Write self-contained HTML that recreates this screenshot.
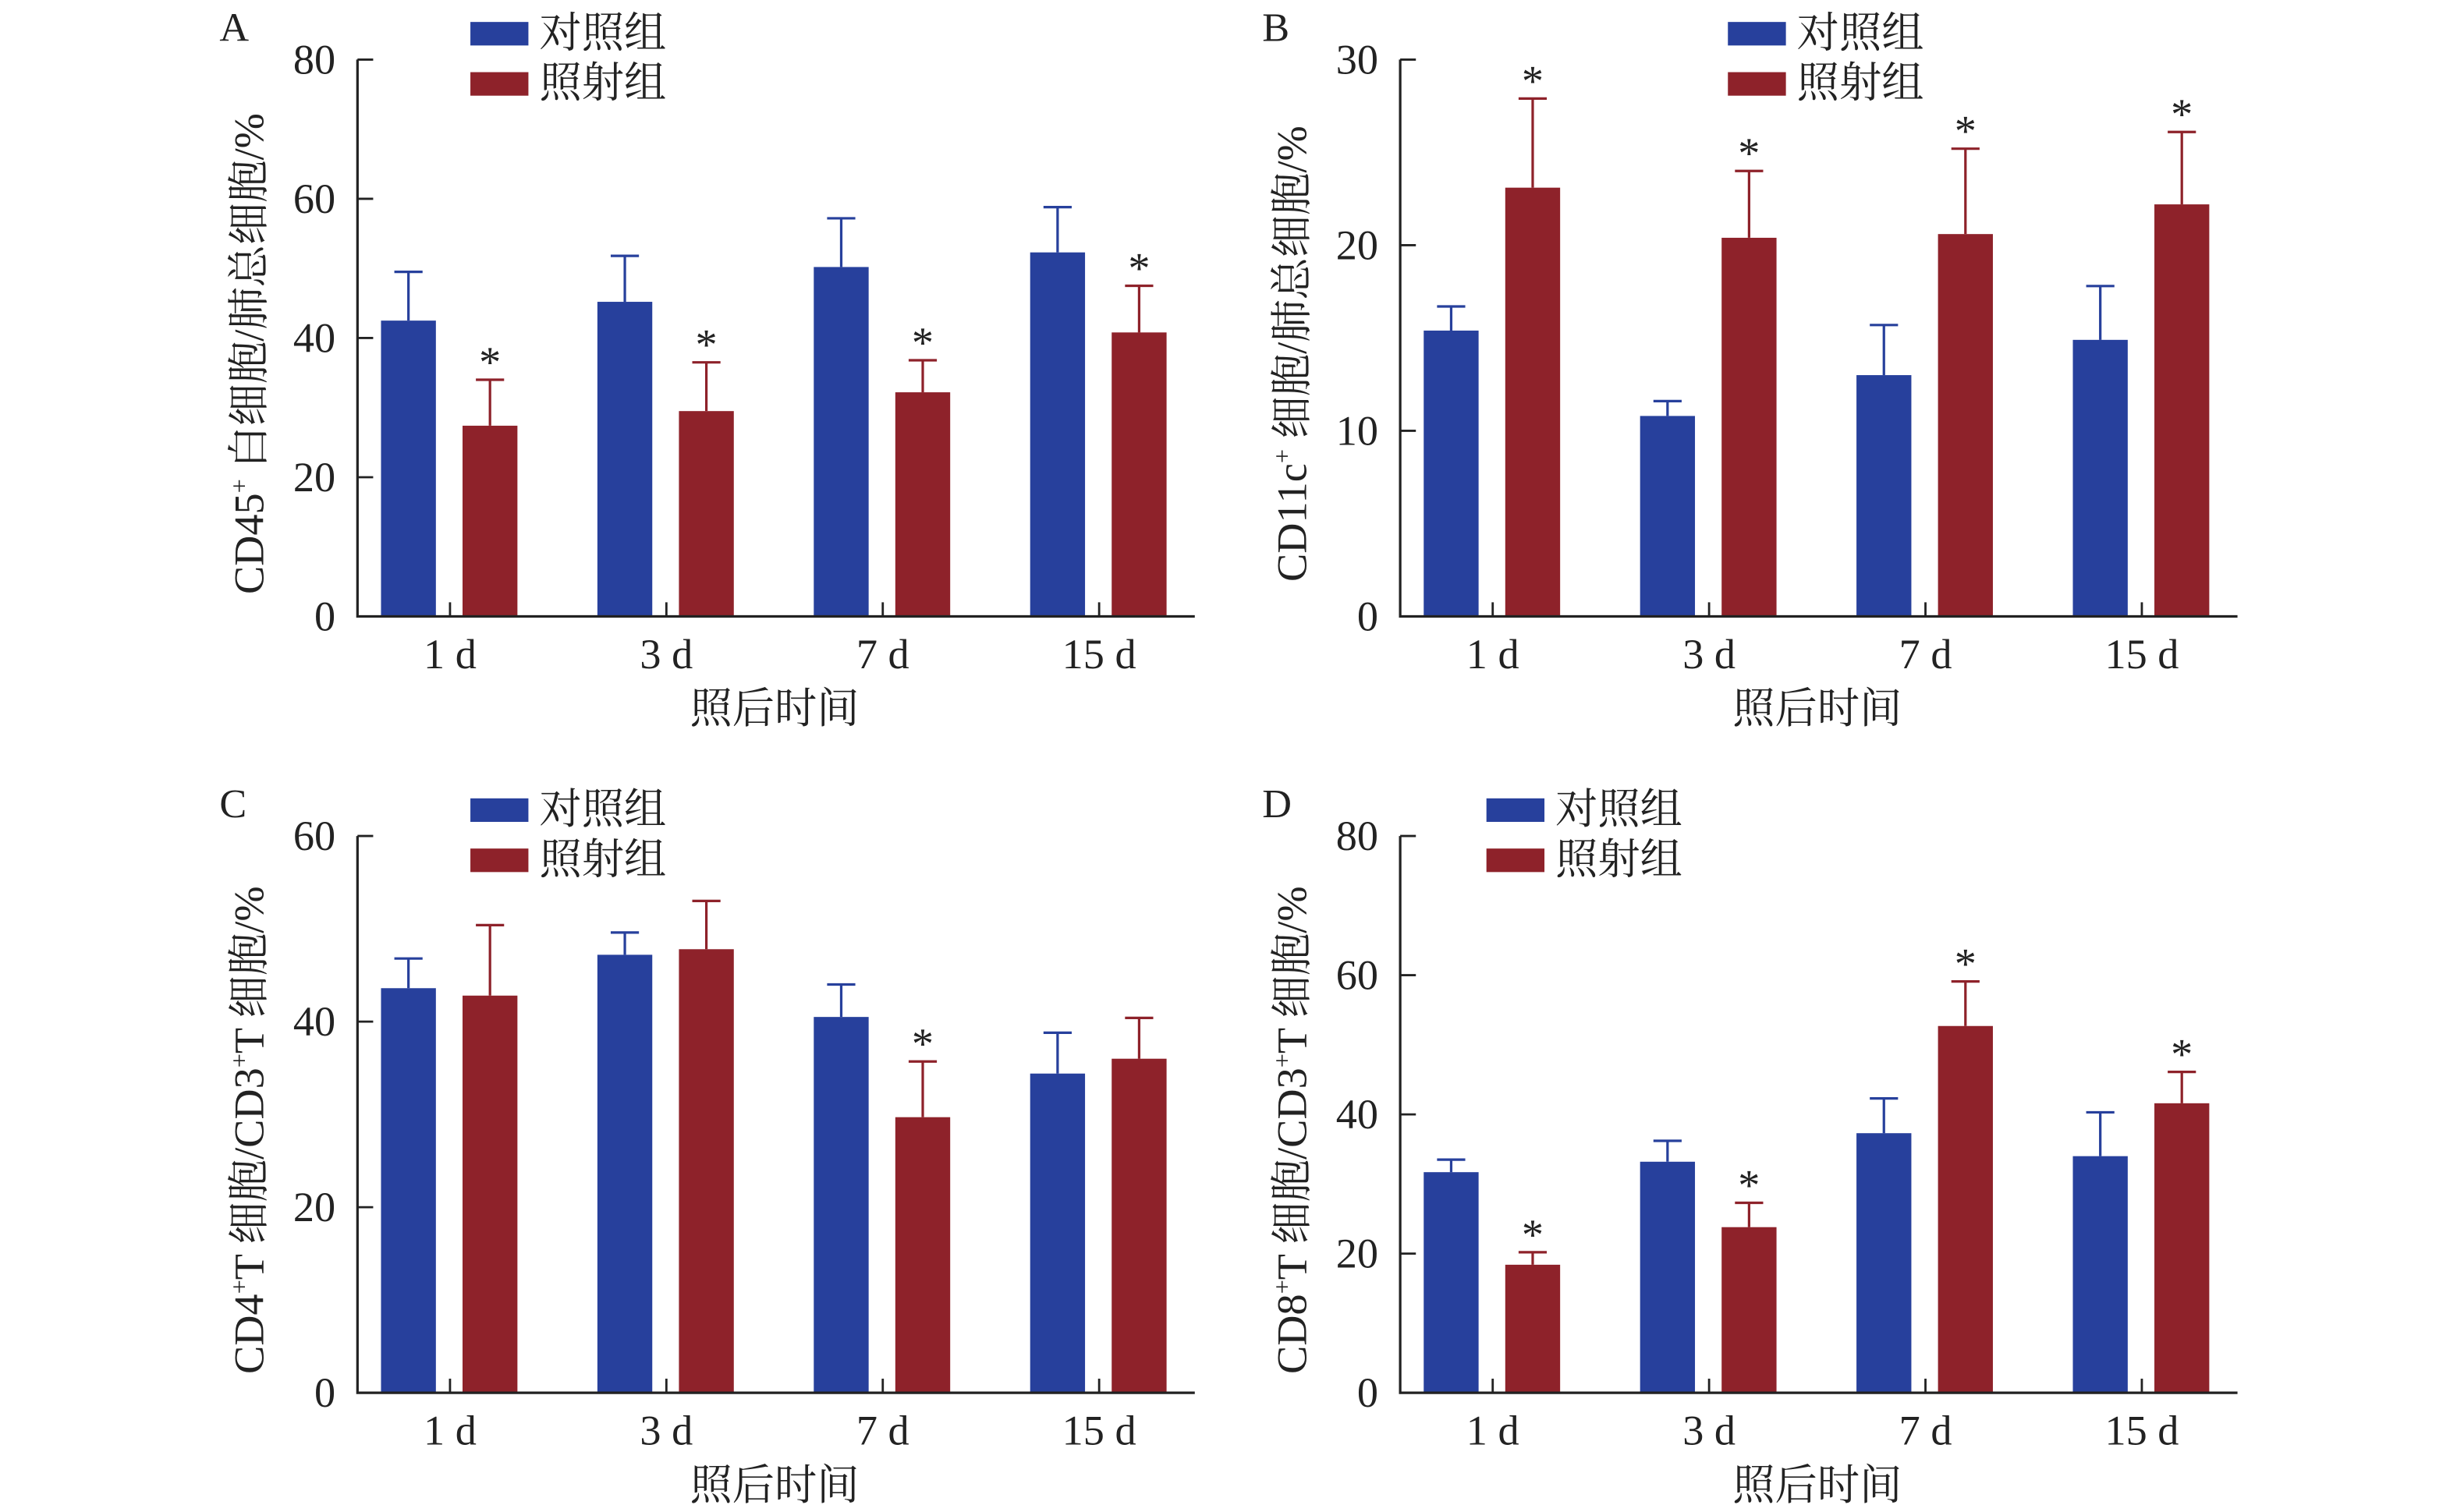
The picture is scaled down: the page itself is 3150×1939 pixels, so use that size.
<!DOCTYPE html>
<html><head><meta charset="utf-8"><style>
html,body{margin:0;padding:0;background:#fff;}
svg{display:block;}
text{font-family:"Liberation Serif","Noto Serif CJK SC","Noto Sans CJK SC",serif;fill:#222;}
</style></head><body>
<svg id="chart" width="3150" height="1939" viewBox="0 0 1567 964" preserveAspectRatio="none" xmlns="http://www.w3.org/2000/svg"></svg>
<script>
const categories = ["1 d","3 d","7 d","15 d"];
const seriesNames = ["对照组","照射组"];
const aControl = [42.5,45.2,50.2,52.3];
const aControlErr = [7.0,6.6,7.0,6.5];
const aIrr = [27.4,29.5,32.2,40.8];
const aIrrErr = [6.6,7.0,4.6,6.7];
const aStars = [false,true,false,true,false,true,false,true];
const bControl = [15.4,10.8,13.0,14.9];
const bControlErr = [1.3,0.8,2.7,2.9];
const bIrr = [23.1,20.4,20.6,22.2];
const bIrrErr = [4.8,3.6,4.6,3.9];
const bStars = [false,true,false,true,false,true,false,true];
const cControl = [43.6,47.2,40.5,34.4];
const cControlErr = [3.2,2.4,3.5,4.4];
const cIrr = [42.8,47.8,29.7,36.0];
const cIrrErr = [7.6,5.2,6.0,4.4];
const cStars = [false,false,false,false,false,true,false,false];
const dControl = [31.7,33.2,37.3,34.0];
const dControlErr = [1.8,3.0,5.0,6.3];
const dIrr = [18.4,23.8,52.7,41.6];
const dIrrErr = [1.8,3.5,6.4,4.5];
const dStars = [false,true,false,true,false,true,false,true];
const aTicks = [0,20,40,60,80];
const bTicks = [0,10,20,30];
const cTicks = [0,20,40,60];
const dTicks = [0,20,40,60,80];

const NS="http://www.w3.org/2000/svg";
const svg=document.getElementById('chart');
const colors=["#27409c","#8e222a"];
function mk(tag,attrs,parent){const e=document.createElementNS(NS,tag);for(const k in attrs)e.setAttribute(k,attrs[k]);(parent||svg).appendChild(e);return e;}

function panel(p){
  const g=mk('g',{});
  
  
  const x0=p.x0,x1=p.x0+534,y0=p.y0,yTop=p.y0-355,max=p.ticks[p.ticks.length-1];
  const yS=v=>y0-(v/max)*(y0-yTop);
  const step=138,c0=x0+59;
  const xC=i=>c0+i*step;
  const L=mk('text',{x:x0-88,y:yTop-12,'font-size':26},g);L.textContent=p.id;
  
  const sets=[[p.c,p.ce],[p.r,p.re]];
  categories.forEach((cat,i)=>{
    sets.forEach((s,j)=>{
      const bx=xC(i)-44+j*52, w=35, v=s[0][i], top=yS(v), et=yS(v+s[1][i]);
      const b=mk('rect',{x:bx,y:top,width:w,height:y0-top,fill:colors[j]},g);
      
      
      const eb=mk('path',{d:`M${bx+w/2},${top}V${et}M${bx+w/2-9},${et}H${bx+w/2+9}`,stroke:colors[j],'stroke-width':1.6,fill:'none'},g);
      
      if(p.stars[i*2+j]){const st=mk('text',{x:bx+w/2,y:et-2,'text-anchor':'middle','font-size':28},g);st.textContent='*';
        }
    });
    mk('line',{x1:xC(i),x2:xC(i),y1:y0,y2:y0-9,stroke:'#222','stroke-width':1.4},g);
    const lb=mk('text',{x:xC(i),y:y0+33,'text-anchor':'middle','font-size':27},g);lb.textContent=cat;
    
  });
  const ax=mk('path',{d:`M${x0},${yTop}V${y0}H${x1}`,stroke:'#222','stroke-width':1.6,fill:'none'},g);
  
  p.ticks.forEach(v=>{
    mk('line',{x1:x0,x2:x0+10,y1:yS(v),y2:yS(v),stroke:'#222','stroke-width':1.4},g);
    const tl=mk('text',{x:x0-14,y:yS(v)+9,'text-anchor':'end','font-size':27},g);tl.textContent=v;
    
  });
  const xt=mk('text',{x:x0+266,y:y0+68,'text-anchor':'middle','font-size':27},g);xt.textContent='照后时间';
  
  const ytx=x0-60, yty=(y0+yTop)/2+10;
  const yt=mk('text',{x:ytx,y:yty,'text-anchor':'middle','font-size':27,transform:`rotate(-90 ${ytx} ${yty})`},g);
  yt.innerHTML=p.ytitle;
  
  seriesNames.forEach((n,j)=>{
    const ly=yTop-24+j*32;
    const r=mk('rect',{x:p.lx,y:ly,width:37,height:15,fill:colors[j]},g);
    
    const t=mk('text',{x:p.lx+44,y:ly+16,'font-size':27},g);t.textContent=n;
    
  });
}
panel({id:'A',x0:228,y0:393,ticks:aTicks,c:aControl,ce:aControlErr,r:aIrr,re:aIrrErr,stars:aStars,lx:300,
  ytitle:'CD45<tspan dy="-10" font-size="16">+</tspan><tspan dy="10"> 白细胞/肺总细胞/%</tspan>'});
panel({id:'B',x0:893,y0:393,ticks:bTicks,c:bControl,ce:bControlErr,r:bIrr,re:bIrrErr,stars:bStars,lx:1102,
  ytitle:'CD11c<tspan dy="-10" font-size="16">+</tspan><tspan dy="10"> 细胞/肺总细胞/%</tspan>'});
panel({id:'C',x0:228,y0:888,ticks:cTicks,c:cControl,ce:cControlErr,r:cIrr,re:cIrrErr,stars:cStars,lx:300,
  ytitle:'CD4<tspan dy="-10" font-size="16">+</tspan><tspan dy="10">T 细胞/CD3</tspan><tspan dy="-10" font-size="16">+</tspan><tspan dy="10">T 细胞/%</tspan>'});
panel({id:'D',x0:893,y0:888,ticks:dTicks,c:dControl,ce:dControlErr,r:dIrr,re:dIrrErr,stars:dStars,lx:948,
  ytitle:'CD8<tspan dy="-10" font-size="16">+</tspan><tspan dy="10">T 细胞/CD3</tspan><tspan dy="-10" font-size="16">+</tspan><tspan dy="10">T 细胞/%</tspan>'});
</script>
</body></html>
